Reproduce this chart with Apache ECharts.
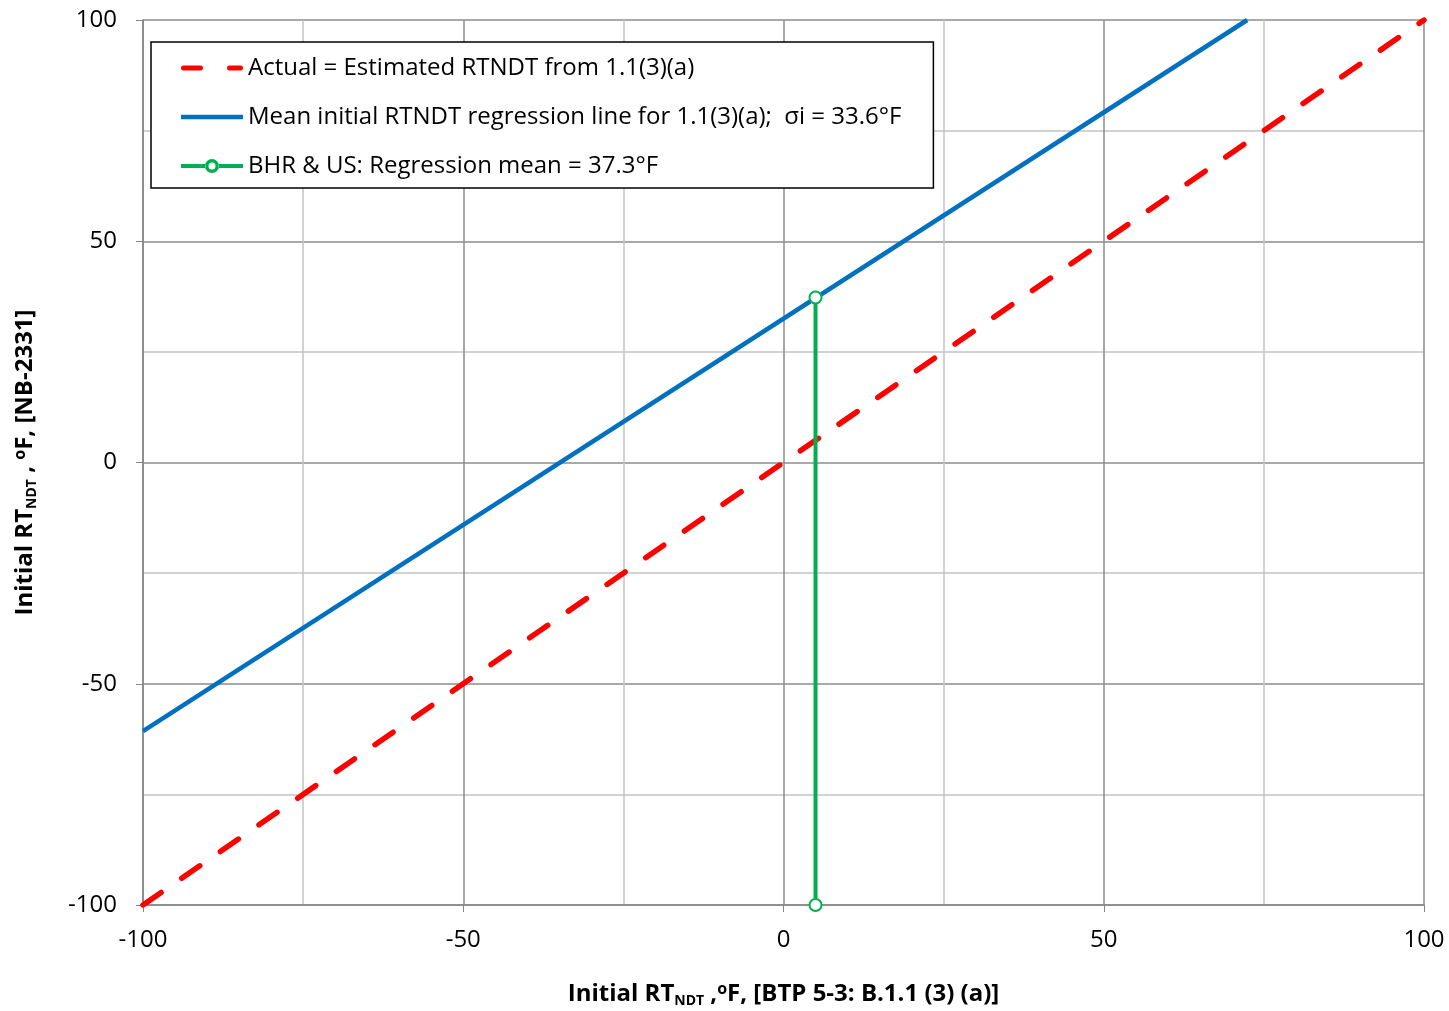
<!DOCTYPE html>
<html>
<head>
<meta charset="utf-8">
<script src="https://cdn.jsdelivr.net/npm/echarts@6/dist/echarts.min.js"></script>
<style>
  html, body { margin: 0; padding: 0; background: #fff; }
  #chart { width: 1449px; height: 1011px; }
</style>
</head>
<body>
<div id="chart"></div>
<script>
// series data
var actualLine = [[-100, -100], [100, 100]];
var meanLine = [[-100, -60.7], [72.4, 100]];
var bhrLine = [[5, 37.3], [5, -100]];

var names = [
  'Actual = Estimated RTNDT from 1.1(3)(a)',
  'Mean initial RTNDT regression line for 1.1(3)(a);  \u03c3i = 33.6\u00b0F',
  'BHR & US: Regression mean = 37.3\u00b0F'
];

var font = 'Open Sans';
var myChart = echarts.init(document.getElementById('chart'));

// legend icons drawn in a 62x26 box (tiny corner specks fix the box size)
var box = 'M0,0h0.01v0.01h-0.01z M61.99,25.99h0.01v0.01h-0.01z ';
var iconDash = 'path://' + box + 'M2.5,10.5h17a2.5,2.5 0 0,1 0,5h-17a2.5,2.5 0 0,1 0,-5z M48.5,10.5h11a2.5,2.5 0 0,1 0,5h-11a2.5,2.5 0 0,1 0,-5z';
var iconSolid = 'path://' + box + 'M0,10.8h62v4.4h-62z';
var iconMarker = 'path://' + box + 'M0,11h24.5v4h-24.5z M37.5,11h24.5v4h-24.5z M24,13a7,7 0 1,0 14,0a7,7 0 1,0 -14,0z M27.5,13a3.5,3.5 0 1,1 7,0a3.5,3.5 0 1,1 -7,0z';

var axisCommon = {
  type: 'value',
  min: -100,
  max: 100,
  interval: 50,
  axisLine: { show: true, onZero: false, lineStyle: { color: '#868686', width: 1.5 } },
  axisTick: { show: true, length: 7, lineStyle: { color: '#868686' } },
  splitLine: { show: true, lineStyle: { color: '#8c8c8c', width: 1.5 } },
  minorTick: { show: false, splitNumber: 2 },
  minorSplitLine: { show: true, lineStyle: { color: '#c4c4c4', width: 1.5 } }
};

var nameRich = {
  b: { fontSize: 24, fontWeight: 'bold', fontFamily: font, color: '#000' },
  sub: { fontSize: 14, fontWeight: 'bold', fontFamily: font, color: '#000', verticalAlign: 'bottom', padding: [11, 0, 0, 0] },
  sup: { fontSize: 16, fontWeight: 'bold', fontFamily: font, color: '#000', padding: [0, 0, 11, 0] }
};

myChart.setOption({
  backgroundColor: '#fff',
  animation: false,
  grid: { left: 143, right: 25, top: 20, bottom: 106, containLabel: false, outerBoundsMode: 'none' },
  legend: {
    orient: 'vertical',
    left: 151,
    top: 42,
    padding: [13, 32, 9, 30],
    itemGap: 23,
    itemWidth: 62,
    itemHeight: 26,
    backgroundColor: '#fff',
    borderColor: '#000',
    borderWidth: 1.5,
    borderRadius: 0,
    textStyle: { fontSize: 24, lineHeight: 26, fontFamily: font, color: '#000' },
    data: [
      { name: names[0], icon: iconDash, itemStyle: { color: '#ff0000', borderWidth: 0 } },
      { name: names[1], icon: iconSolid, itemStyle: { color: '#0070c0', borderWidth: 0 } },
      { name: names[2], icon: iconMarker, itemStyle: { color: '#00b050', borderWidth: 0 } }
    ]
  },
  xAxis: Object.assign({}, axisCommon, {
    position: 'bottom',
    axisLabel: { color: '#000', fontSize: 24, fontFamily: font, margin: 23 },
    name: '{b|Initial RT}{sub|NDT}{b| ,}{sup|o}{b|F, [BTP 5-3: B.1.1 (3) (a)]}',
    nameLocation: 'middle',
    nameGap: 76,
    nameTextStyle: { rich: nameRich }
  }),
  yAxis: Object.assign({}, axisCommon, {
    position: 'left',
    axisLabel: { color: '#000', fontSize: 24, fontFamily: font, margin: 26 },
    name: '{b|Initial RT}{sub|NDT}{b| , }{sup|o}{b|F, [NB-2331]}',
    nameLocation: 'middle',
    nameGap: 104,
    nameTextStyle: { rich: nameRich }
  }),
  series: [
    {
      name: names[0],
      type: 'line',
      data: actualLine,
      symbol: 'none',
      z: 3,
      lineStyle: { color: '#ff0000', width: 5.5, type: [22, 25], cap: 'round' },
      itemStyle: { color: '#ff0000' }
    },
    {
      name: names[1],
      type: 'line',
      data: meanLine,
      symbol: 'none',
      z: 4,
      lineStyle: { color: '#0070c0', width: 4.5 },
      itemStyle: { color: '#0070c0' }
    },
    {
      name: names[2],
      type: 'line',
      data: bhrLine,
      symbol: 'emptyCircle',
      symbolSize: 12,
      z: 5,
      lineStyle: { color: '#00b050', width: 4 },
      itemStyle: { color: '#00b050', borderWidth: 3 }
    }
  ]
});
</script>
</body>
</html>
